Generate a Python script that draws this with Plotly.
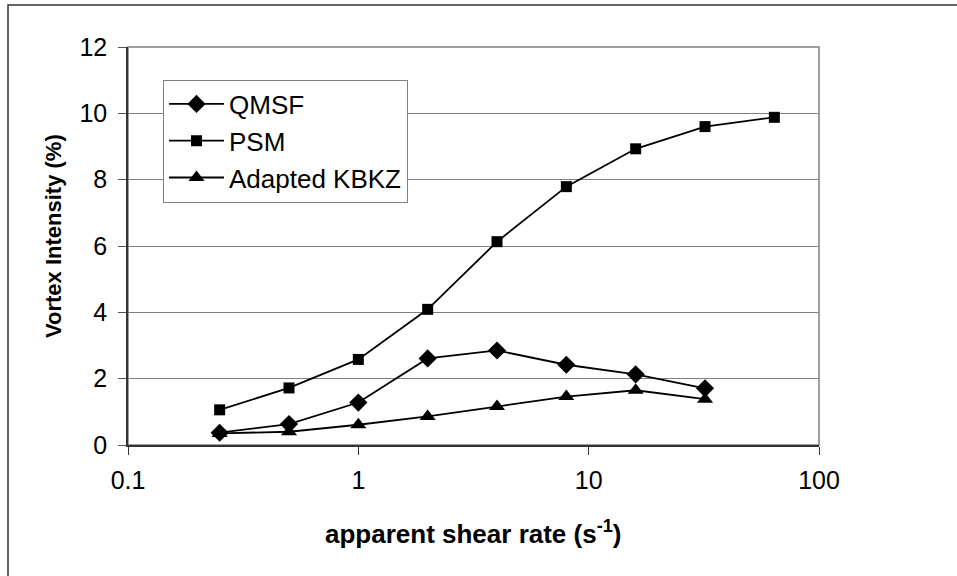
import plotly.graph_objects as go

shear_rate = [0.25, 0.5, 1, 2, 4, 8, 16, 32, 64]
qmsf = [0.37, 0.63, 1.28, 2.61, 2.85, 2.42, 2.13, 1.71]
psm = [1.06, 1.72, 2.58, 4.09, 6.13, 7.79, 8.93, 9.60, 9.88]
kbkz = [0.35, 0.40, 0.61, 0.86, 1.16, 1.46, 1.65, 1.38]

x_ticks = [0.1, 1, 10, 100]
x_tick_text = ["0.1", "1", "10", "100"]
y_ticks = [0, 2, 4, 6, 8, 10, 12]

W, H = 957, 576
L, R, T, B = 128, 819, 47, 445  # plot area in pixels

FONT = "Arial, Liberation Sans, sans-serif"

def px(xp):
    return (xp - L) / (R - L)

def py(yp):
    return (B - yp) / (B - T)

fig = go.Figure()
series = [
    ("QMSF", shear_rate[:len(qmsf)], qmsf, "diamond", 14),
    ("PSM", shear_rate[:len(psm)], psm, "square", 11),
    ("Adapted KBKZ", shear_rate[:len(kbkz)], kbkz, "triangle-up", 14),
]
for name, xs, ys, sym, size in series:
    fig.add_trace(go.Scatter(
        x=xs, y=ys, name=name, mode="lines+markers", legendgroup=name,
        line=dict(color="black", width=1.8),
        marker=dict(symbol=sym, size=size, color="black", line=dict(width=0)),
    ))

fig.update_layout(
    width=W, height=H,
    margin=dict(l=L, r=W - R, t=T, b=H - B),
    paper_bgcolor="white", plot_bgcolor="white",
    font=dict(family=FONT, size=24, color="black"),
    showlegend=True,
    legend=dict(
        x=px(163), y=py(79.5), xanchor="left", yanchor="top",
        bordercolor="#808080", borderwidth=1, bgcolor="white",
        font=dict(family=FONT, size=26, color="black"),
        itemwidth=55, tracegroupgap=12, traceorder="normal",
    ),
    xaxis=dict(
        type="log", range=[-1, 2], tickvals=x_ticks, ticktext=x_tick_text,
        showgrid=False, zeroline=False,
        showline=True, linecolor="#333333", linewidth=1.5,
        ticks="outside", ticklen=8, tickcolor="#333333", tickwidth=1,
        ticklabelstandoff=4,
        tickfont=dict(family=FONT, size=25, color="black"),
    ),
    yaxis=dict(
        range=[0, 12], tickvals=y_ticks,
        showgrid=True, gridcolor="#808080", gridwidth=1.2, zeroline=False,
        showline=True, linecolor="#333333", linewidth=1.5,
        ticks="outside", ticklen=8, tickcolor="#555555", tickwidth=1,
        ticklabelstandoff=6,
        tickfont=dict(family=FONT, size=25, color="black"),
    ),
    shapes=[
        dict(type="rect", xref="paper", yref="paper", x0=0, x1=1, y0=0, y1=1,
             line=dict(color="#808080", width=1.5), layer="below"),
        dict(type="rect", xref="paper", yref="paper",
             x0=px(8), x1=px(970), y0=py(590), y1=py(5),
             line=dict(color="#333333", width=1.5), layer="below"),
    ],
    annotations=[
        dict(text="<b>Vortex Intensity (%)</b>", xref="paper", yref="paper",
             x=px(53), y=py(236), textangle=-90, showarrow=False,
             xanchor="center", yanchor="middle",
             font=dict(family=FONT, size=22, color="black")),
        dict(text="<b>apparent shear rate (s<sup>-1</sup>)</b>", xref="paper", yref="paper",
             x=px(473), y=py(532), showarrow=False,
             xanchor="center", yanchor="middle",
             font=dict(family=FONT, size=26, color="black")),
    ],
)

fig.write_html("out.html")
